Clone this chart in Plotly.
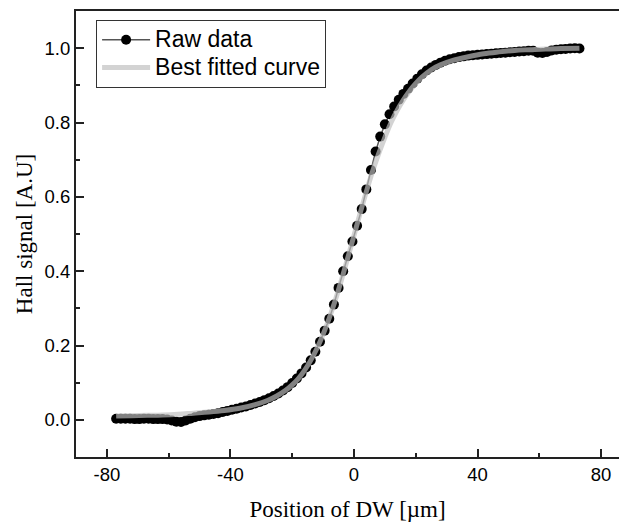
import plotly.graph_objects as go

# Raw data (position of DW in um, Hall signal in A.U.)
raw_x = [-77, -75.5, -74, -72.5, -71, -69.5, -68, -66.5, -65, -63.5, -62, -60.5, -59, -57.5, -56, -54.5,
         -53, -51.5, -50, -48.5, -47, -45.5, -44, -42.5, -41, -39.5, -38, -36.5, -35, -33.5, -32, -30.5,
         -29, -27.5, -26, -24.5, -23, -21.5, -20, -18.5, -17, -15.5, -14, -12.5, -11, -9.5, -8, -6.5,
         -5, -3.5, -2, -0.5, 1, 2.5, 4, 5.5, 7, 8.5, 10, 11.5, 13, 14.5, 16, 17.5, 19, 20.5, 22, 23.5,
         25, 26.5, 28, 29.5, 31, 32.5, 34, 35.5, 37, 38.5, 40, 41.5, 43, 44.5, 46, 47.5, 49, 50.5, 52,
         53.5, 55, 56.5, 58, 59.5, 61, 62.5, 64, 65.5, 67, 68.5, 70, 71.5, 73]
raw_y = [0.003, 0.003, 0.003, 0.003, 0.002, 0.002, 0.003, 0.003, 0.002, 0.002, 0.002, 0.001, -0.002, -0.005,
         -0.006, -0.002, 0.003, 0.007, 0.010, 0.012, 0.014, 0.016, 0.018, 0.021, 0.024, 0.027, 0.030, 0.033,
         0.036, 0.040, 0.044, 0.048, 0.053, 0.058, 0.064, 0.071, 0.079, 0.088, 0.099, 0.111, 0.125, 0.141,
         0.160, 0.183, 0.210, 0.240, 0.272, 0.310, 0.355, 0.400, 0.440, 0.480, 0.522, 0.567, 0.620, 0.672,
         0.722, 0.762, 0.795, 0.822, 0.843, 0.861, 0.877, 0.891, 0.905, 0.918, 0.930, 0.940, 0.948, 0.955,
         0.961, 0.966, 0.970, 0.973, 0.976, 0.978, 0.980, 0.981, 0.982, 0.983, 0.984, 0.985, 0.986, 0.987,
         0.988, 0.989, 0.990, 0.991, 0.992, 0.993, 0.993, 0.988, 0.987, 0.990, 0.994, 0.996, 0.997, 0.998,
         0.999, 1.000, 0.999]

# Best fitted curve
fit_x = [-77, -72, -67, -62, -57, -52, -47, -42, -37, -32, -28, -25, -22, -20, -18, -16, -14, -12, -10,
         -8, -6, -4, -2, 0, 2, 4, 6, 8, 10, 12, 14, 16, 18, 20, 22, 25, 28, 32, 37, 42, 47, 52, 57, 62,
         67, 73]
fit_y = [0.010, 0.011, 0.012, 0.013, 0.015, 0.018, 0.021, 0.025, 0.031, 0.041, 0.052, 0.064, 0.080, 0.094,
         0.111, 0.133, 0.160, 0.192, 0.230, 0.274, 0.323, 0.378, 0.436, 0.496, 0.556, 0.614, 0.668, 0.716,
         0.760, 0.800, 0.833, 0.861, 0.885, 0.905, 0.922, 0.942, 0.955, 0.967, 0.977, 0.985, 0.990, 0.994,
         0.996, 0.998, 0.999, 1.000]

series_names = ["Raw data", "Best fitted curve"]
x_ticks = [-80, -40, 0, 40, 80]
y_ticks = [0.0, 0.2, 0.4, 0.6, 0.8, 1.0]

LEGEND_TEXT = '<span style="font-size:23px">{}</span>'

fig = go.Figure()
fig.add_trace(go.Scatter(
    x=raw_x, y=raw_y, mode="lines+markers", name=LEGEND_TEXT.format(series_names[0]),
    line=dict(color="#555555", width=1.5),
    marker=dict(color="black", size=10, line=dict(width=0)),
))
fig.add_trace(go.Scatter(
    x=fit_x, y=fit_y, mode="lines", name=LEGEND_TEXT.format(series_names[1]),
    line=dict(color="rgba(190,190,190,0.68)", width=5, shape="spline"),
))

tick_font = dict(family="Liberation Sans, Arial, sans-serif", size=18.5, color="black")
title_font = dict(family="Liberation Serif, Times New Roman, serif", size=23, color="black")

fig.update_layout(
    width=619, height=525,
    margin=dict(l=76, r=0, t=11, b=68),
    paper_bgcolor="white", plot_bgcolor="white",
    showlegend=True,
    legend=dict(
        x=0.037, y=0.98, xanchor="left", yanchor="top",
        bordercolor="#333333", borderwidth=1, bgcolor="rgba(255,255,255,0)",
        font=dict(family="Liberation Sans, Arial, sans-serif", size=19, color="black"),
        itemwidth=48,
        tracegroupgap=0,
    ),
    xaxis=dict(
        range=[-90, 85.8], tickmode="array", tickvals=x_ticks,
        ticktext=[str(v) for v in x_ticks],
        ticks="inside", ticklen=8, tickwidth=1.5, tickcolor="#222222",
        minor=dict(ticks="inside", ticklen=4, tickwidth=1.5, tickcolor="#222222", dtick=20, tick0=0),
        showline=True, linecolor="#222222", linewidth=2, mirror=True,
        showgrid=False, zeroline=False,
        tickfont=tick_font,
        title=dict(text="Position of DW [µm]", font=title_font, standoff=17),
    ),
    yaxis=dict(
        range=[-0.1, 1.1], tickmode="array", tickvals=y_ticks,
        ticktext=[f"{v:.1f}" for v in y_ticks],
        ticks="inside", ticklen=8, tickwidth=1.5, tickcolor="#222222",
        minor=dict(ticks="inside", ticklen=4, tickwidth=1.5, tickcolor="#222222", dtick=0.1, tick0=0),
        showline=True, linecolor="#222222", linewidth=2, mirror=False,
        showgrid=False, zeroline=False,
        tickfont=tick_font,
        title=dict(text="Hall signal [A.U]", font=title_font, standoff=6),
    ),
)

fig.write_html("out.html")
